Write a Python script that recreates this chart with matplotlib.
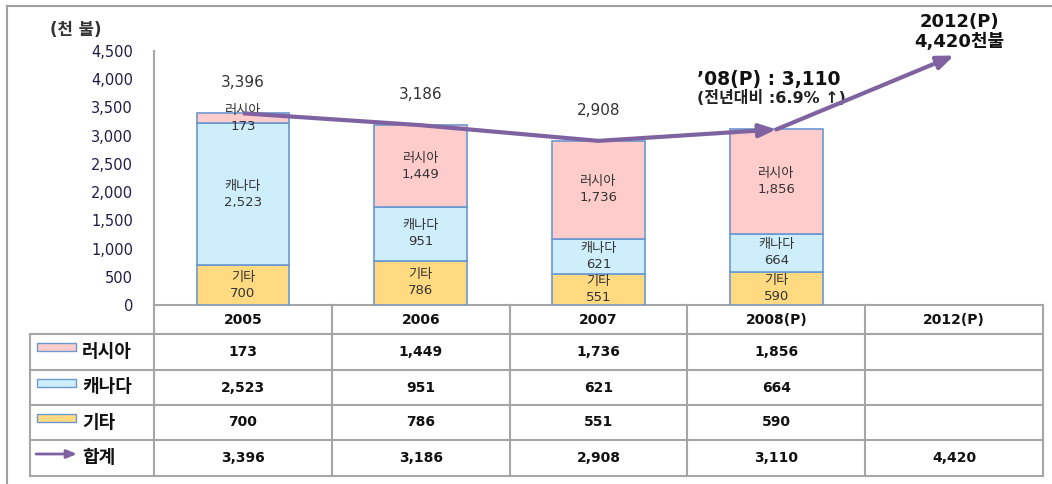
import matplotlib
matplotlib.use("Agg")
import matplotlib.pyplot as plt
from matplotlib.patches import Rectangle

plt.rcParams["font.family"] = ["DejaVu Sans", "Noto Sans CJK KR"]

# data (천 불)
years = ["2005", "2006", "2007", "2008(P)", "2012(P)"]
series_names = ["러시아", "캐나다", "기타"]
russia = [173, 1449, 1736, 1856]
canada = [2523, 951, 621, 664]
other = [700, 786, 551, 590]
totals = [3396, 3186, 2908, 3110, 4420]
yticks = [0, 500, 1000, 1500, 2000, 2500, 3000, 3500, 4000, 4500]

c_russia = "#FFCCCC"
c_canada = "#CFEEFB"
c_other = "#FFDA80"
c_edge = "#6A98D0"
c_line = "#7F63A1"
c_grid = "#A6A6A6"
c_text = "#333333"

W, H = 1052, 484
fig = plt.figure(figsize=(W / 100, H / 100), dpi=100)

# overlay axes in pixel coords for frame + table
tb = fig.add_axes([0, 0, 1, 1])
tb.set_xlim(0, W)
tb.set_ylim(H, 0)
tb.axis("off")

ax = fig.add_axes([154 / W, 1 - 305 / H, (1043 - 154) / W, (305 - 51) / H])
ax.set_facecolor("none")

x4 = list(range(len(russia)))
bw = 0.52
ax.bar(x4, other, bw, color=c_other, edgecolor=c_edge, lw=1.2, zorder=2)
ax.bar(x4, canada, bw, bottom=other, color=c_canada, edgecolor=c_edge, lw=1.2, zorder=2)
base2 = [o + c for o, c in zip(other, canada)]
ax.bar(x4, russia, bw, bottom=base2, color=c_russia, edgecolor=c_edge, lw=1.2, zorder=2)

# labels inside bars
for i in x4:
    for name, val, b in [("기타", other[i], 0), ("캐나다", canada[i], other[i]),
                         ("러시아", russia[i], base2[i])]:
        ax.text(i, b + val / 2, f"{name}\n{val:,}", ha="center", va="center",
                fontsize=9.5, color=c_text, linespacing=1.3, zorder=3)

# total labels above first three bars
for i in range(3):
    ax.annotate(f"{totals[i]:,}", (i, totals[i]), xytext=(0, 22), textcoords="offset points",
                ha="center", va="center", fontsize=11, color=c_text)

# total line with arrows
ax.plot([0, 1, 2], totals[:3], color=c_line, lw=3, solid_capstyle="butt", zorder=4)
ax.annotate("", xy=(3, totals[3]), xytext=(2, totals[2]),
            arrowprops=dict(arrowstyle="-|>,head_length=1.0,head_width=0.4", lw=3,
                            color=c_line, shrinkA=0, shrinkB=0), zorder=4)
ax.annotate("", xy=(4, totals[4]), xytext=(3, totals[3]),
            arrowprops=dict(arrowstyle="-|>,head_length=1.0,head_width=0.4", lw=3,
                            color=c_line, shrinkA=0, shrinkB=0), zorder=4)

ax.text(2.96, 3990, f"’08(P) : {totals[3]:,}", ha="center", va="center",
        fontsize=13.5, fontweight="bold", color="#111111")
ax.text(2.97, 3670, "(전년대비 :6.9% ↑)", ha="center", va="center",
        fontsize=11.5, fontweight="bold", color="#222222")
ax.text(4.03, 4840, f"{years[4]}\n{totals[4]:,}천불", ha="center", va="center",
        fontsize=13, fontweight="bold", color="#111111", linespacing=1.1)

ax.set_xlim(-0.5, 4.5)
ax.set_ylim(0, 4500)
ax.set_yticks(yticks)
ax.set_yticklabels([f"{t:,}" for t in yticks])
ax.tick_params(axis="y", length=0, pad=15, labelsize=10.5, labelcolor="#1E1E46")
ax.set_xticks([])
for s in ["top", "right", "bottom"]:
    ax.spines[s].set_visible(False)
ax.spines["left"].set_color(c_grid)
ax.spines["left"].set_linewidth(1.5)

# frame
tb.plot([7, W], [6, 6], color="#A0A0A0", lw=1.5)
tb.plot([7, 7], [6, H], color="#A0A0A0", lw=1.5)
tb.text(76, 30, "(천 불)", ha="center", va="center", fontsize=12,
        fontweight="bold", color=c_text)

# data table
col_x0, col_x1 = 154, 1043
col_w = (col_x1 - col_x0) / len(years)
rows_y = [305, 334, 370, 405, 440, 476]
tb.plot([col_x0, col_x1], [rows_y[0], rows_y[0]], color=c_grid, lw=1.5)
for y in rows_y[1:]:
    tb.plot([30, col_x1], [y, y], color=c_grid, lw=1.5)
for j in range(len(years) + 1):
    xx = col_x0 + j * col_w
    tb.plot([xx, xx], [rows_y[0], rows_y[-1]], color=c_grid, lw=1.5)
tb.plot([30, 30], [rows_y[1], rows_y[-1]], color=c_grid, lw=1.5)

for j, yr in enumerate(years):
    tb.text(col_x0 + (j + 0.5) * col_w, (rows_y[0] + rows_y[1]) / 2, yr,
            ha="center", va="center", fontsize=10, fontweight="bold", color="#111111")

table_rows = [russia, canada, other]
row_colors = [c_russia, c_canada, c_other]
for r, (name, vals, col) in enumerate(zip(series_names, table_rows, row_colors)):
    yc = (rows_y[r + 1] + rows_y[r + 2]) / 2
    tb.add_patch(Rectangle((37, yc - 9), 39, 8, facecolor=col, edgecolor=c_edge, lw=1))
    tb.text(82, yc, name, ha="left", va="center", fontsize=13, fontweight="bold", color="#111111")
    for j, v in enumerate(vals):
        tb.text(col_x0 + (j + 0.5) * col_w, yc, f"{v:,}", ha="center", va="center",
                fontsize=10, fontweight="bold", color="#111111")

yc = (rows_y[4] + rows_y[5]) / 2
tb.annotate("", xy=(77, yc - 4), xytext=(36, yc - 4),
            arrowprops=dict(arrowstyle="-|>,head_length=0.6,head_width=0.25", lw=2,
                            color=c_line, shrinkA=0, shrinkB=0))
tb.text(82, yc, "합계", ha="left", va="center", fontsize=13, fontweight="bold", color="#111111")
for j, v in enumerate(totals):
    tb.text(col_x0 + (j + 0.5) * col_w, yc, f"{v:,}", ha="center", va="center",
            fontsize=10, fontweight="bold", color="#111111")

fig.savefig("out.png", dpi=100)
